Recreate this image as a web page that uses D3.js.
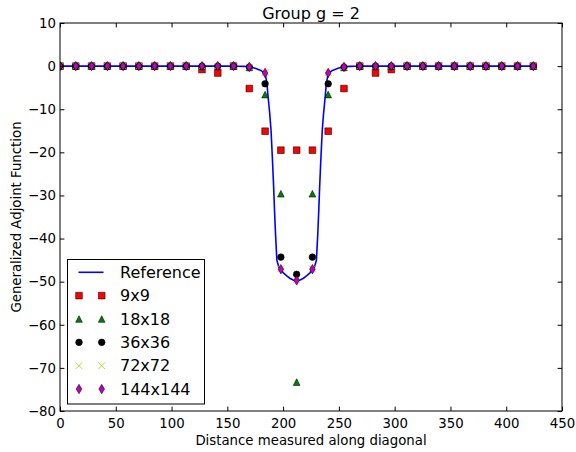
<!DOCTYPE html>
<html><head><meta charset="utf-8">
<script src="https://cdn.jsdelivr.net/npm/d3@7"></script>
<style>body{margin:0;background:#fff}svg{display:block}text{font-family:"DejaVu Sans",sans-serif}</style>
</head><body><svg id="c" width="576" height="452"></svg>
<script>
// ---- data ----
const title = "Group g = 2";
const xLabel = "Distance measured along diagonal";
const yLabel = "Generalized Adjoint Function";
const xTicks = [0,50,100,150,200,250,300,350,400,450];
const yTicks = [10,0,-10,-20,-30,-40,-50,-60,-70,-80];
// sample positions along the diagonal (31 points)
const sampleX = [0,14.14,28.28,42.43,56.57,70.71,84.85,98.99,113.14,127.28,141.42,155.56,169.71,183.85,197.99,212.13,226.27,240.42,254.56,268.70,282.84,296.98,311.13,325.27,339.41,353.55,367.70,381.84,395.98,410.12,424.26];
const v9  = [0,0,0,0,0,0,0,0,0,-0.8,-1.6,0,-5.2,-15.1,-19.5,-19.5,-19.5,-15.1,-5.2,0,-1.6,-0.8,0,0,0,0,0,0,0,0,0];
const v18 = [0,0,0,0,0,0,0,0,0,0,0,0,-0.3,-6.6,-29.6,-73.3,-29.6,-6.6,-0.3,0,0,0,0,0,0,0,0,0,0,0,0];
const v36 = [0,0,0,0,0,0,0,0,0,0,0,0,-0.2,-4.1,-44.3,-48.3,-44.3,-4.1,-0.2,0,0,0,0,0,0,0,0,0,0,0,0];
const v72 = [0,0,0,0,0,0,0,0,0,0,0,0,-0.2,-1.5,-47.0,-49.5,-47.0,-1.5,-0.2,0,0,0,0,0,0,0,0,0,0,0,0];
const v144= [0,0,0,0,0,0,0,0,0,0,0,0,-0.2,-1.6,-47.1,-49.7,-47.1,-1.6,-0.2,0,0,0,0,0,0,0,0,0,0,0,0];
// reference solution curve
const refX = [0,50,100,150,160,165,170,175,180,183.85,185.5,186.5,188,189.2,190.5,191.5,192.3,193.2,194.4,196,198,200,203,206,209,212.13,
              215.26,218.26,221.26,224.26,226.26,228.26,229.86,231.06,231.96,232.76,233.76,235.06,236.26,237.76,238.76,240.41,244.26,249.26,254.26,259.26,264.26,274.26,324.26,374.26,424.26];
const refY = [0,0,0,0,-0.02,-0.05,-0.2,-0.5,-1.0,-1.7,-4,-7,-11,-15,-22,-28,-33.5,-39,-45,-46.5,-47.3,-47.9,-48.6,-49.2,-49.6,-49.8,
              -49.6,-49.2,-48.6,-47.9,-47.3,-46.5,-45,-39,-33.5,-28,-22,-15,-11,-7,-4,-1.7,-1.0,-0.5,-0.2,-0.05,-0.02,0,0,0,0];
const seriesNames = ["Reference","9x9","18x18","36x36","72x72","144x144"];

// ---- layout ----
const svg = d3.select("#c");
const L=60,R=562,T=23,B=411;
const x = d3.scaleLinear().domain([0,450]).range([L,R]);
const y = d3.scaleLinear().domain([-80,10]).range([B,T]);
const ms = 6.67;
const fmt = d => d<0 ? "\u2212"+Math.abs(d) : String(d);

const clip = svg.append("defs").append("clipPath").attr("id","pa").append("rect")
  .attr("x",L).attr("y",T).attr("width",R-L).attr("height",B-T);

// markers
function sqPath(s){const h=s/2;return `M${-h},${-h}H${h}V${h}H${-h}Z`;}
function triPath(s){const h=s/2;return `M0,${-h}L${h},${h}L${-h},${h}Z`;}
function circPath(s){return d3.symbol(d3.symbolCircle, Math.PI*(s/2)*(s/2))();}
function xPath(s){const h=s/2;return `M${-h},${-h}L${h},${h}M${-h},${h}L${h},${-h}`;}
function dPath(s){const h=s*Math.SQRT2/2, w=h*0.6;return `M0,${-h}L${w},0L0,${h}L${-w},0Z`;}

const markerDefs = [
  {vals:v9,  path:sqPath(ms),  fill:"#ff0000", stroke:"#000", sw:0.55},
  {vals:v18, path:triPath(ms), fill:"#008000", stroke:"#000", sw:0.55},
  {vals:v36, path:circPath(ms),fill:"#000000", stroke:"#000", sw:0.55},
  {vals:v72, path:xPath(ms),   fill:"none",    stroke:"#bfbf00", sw:0.8},
  {vals:v144,path:dPath(ms),   fill:"#bf00bf", stroke:"#000", sw:0.55}
];

const plot = svg.append("g").attr("clip-path","url(#pa)");
plot.append("path").datum(refX.map((d,i)=>[d,refY[i]]))
  .attr("d", d3.line().x(d=>x(d[0])).y(d=>y(d[1])))
  .attr("fill","none").attr("stroke","#0000ff").attr("stroke-width",1.6);

markerDefs.forEach(m=>{
  plot.append("g").selectAll("path").data(sampleX.map((d,i)=>[d,m.vals[i]])).join("path")
    .attr("d",m.path).attr("transform",d=>`translate(${x(d[0])},${y(d[1])})`)
    .attr("fill",m.fill).attr("stroke",m.stroke).attr("stroke-width",m.sw);
});

// axes
const tl = 4.4;
const gx = svg.append("g").attr("transform",`translate(0,${B})`)
  .call(d3.axisBottom(x).tickValues(xTicks).tickSize(-tl).tickPadding(8).tickFormat(fmt));
const gxt = svg.append("g").attr("transform",`translate(0,${T})`)
  .call(d3.axisTop(x).tickValues(xTicks).tickSize(-tl).tickFormat(""));
const gy = svg.append("g").attr("transform",`translate(${L},0)`)
  .call(d3.axisLeft(y).tickValues(yTicks).tickSize(-tl).tickPadding(4).tickFormat(fmt));
const gyr = svg.append("g").attr("transform",`translate(${R},0)`)
  .call(d3.axisRight(y).tickValues(yTicks).tickSize(-tl).tickFormat(""));
[gx,gxt,gy,gyr].forEach(g=>{
  g.select(".domain").remove();
  g.selectAll("line").attr("stroke","#000").attr("stroke-width",1);
  g.selectAll("text").attr("font-family","DejaVu Sans").attr("font-size",13.3).attr("fill","#000");
});
gx.selectAll("text").attr("dy",null).attr("y",17);
svg.append("rect").attr("x",L).attr("y",T).attr("width",R-L).attr("height",B-T)
  .attr("fill","none").attr("stroke","#000").attr("stroke-width",1);

// labels
svg.append("text").attr("x",(L+R)/2).attr("y",19).attr("text-anchor","middle")
  .attr("font-size",16).text(title);
svg.append("text").attr("x",(L+R)/2).attr("y",445).attr("text-anchor","middle")
  .attr("font-size",13.3).text(xLabel);
svg.append("text").attr("transform",`translate(21,${(T+B)/2}) rotate(-90)`).attr("text-anchor","middle")
  .attr("font-size",13.3).text(yLabel);

// legend
const lg = svg.append("g");
lg.append("rect").attr("x",67.5).attr("y",259.5).attr("width",137).attr("height",144.5)
  .attr("fill","#fff").attr("stroke","#000").attr("stroke-width",1);
const ly0 = 272.3, ldy = 23.35;
seriesNames.forEach((name,i)=>{
  const yy = ly0 + i*ldy;
  if(i===0){
    lg.append("line").attr("x1",78.5).attr("x2",103.5).attr("y1",yy).attr("y2",yy)
      .attr("stroke","#0000ff").attr("stroke-width",1.6);
  } else {
    const m = markerDefs[i-1];
    [79,101.7].forEach(xx=>{
      lg.append("path").attr("d",m.path).attr("transform",`translate(${xx},${yy})`)
        .attr("fill",m.fill).attr("stroke",m.stroke).attr("stroke-width",m.sw);
    });
  }
  lg.append("text").attr("x",120).attr("y",yy).attr("dy","0.36em")
    .attr("font-size",16).text(name);
});
</script></body></html>
